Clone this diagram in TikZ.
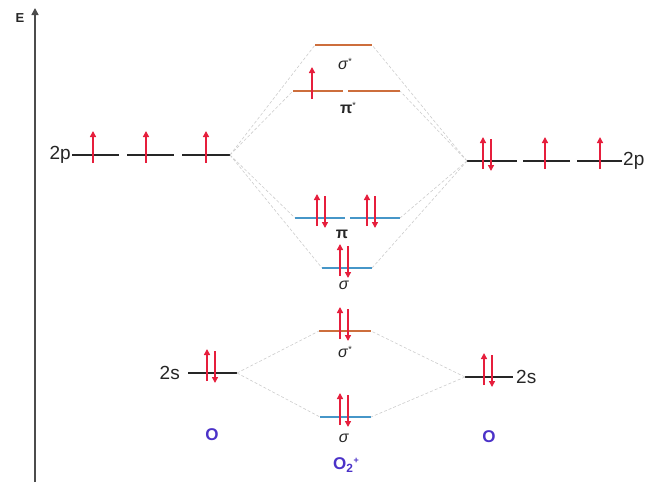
\documentclass[tikz,border=0pt]{standalone}
\usepackage{fontspec}
\setmainfont{Liberation Sans}
\usetikzlibrary{arrows.meta}
\definecolor{orb}{RGB}{205,110,60}
\definecolor{blu}{RGB}{70,150,200}
\definecolor{spinred}{RGB}{230,30,60}
\definecolor{lbl}{RGB}{75,50,200}
\tikzset{
  lvl/.style={line width=2.2pt},
  ao/.style={lvl,black!85},
  anti/.style={lvl,orb},
  bond/.style={lvl,blu},
  corr/.style={gray!40,densely dashed,line width=0.6pt},
  spin/.style={spinred,line width=1.4pt,-{Triangle[length=6pt,width=6pt]}},
  txt/.style={font=\fontsize{19}{19}\selectfont,text=black!85},
  mo/.style={font=\fontsize{16}{16}\selectfont,text=black!85},
  atom/.style={font=\bfseries\fontsize{17}{17}\selectfont,text=lbl}
}
\newcommand\eup[2]{\draw[spin] (#1,#2+8) -- (#1,#2-24);}
\newcommand\edn[2]{\draw[spin] (#1,#2-22) -- (#1,#2+10);}
\newcommand\epair[2]{\eup{#1-4}{#2}\edn{#1+4}{#2}}
\begin{document}
\begin{tikzpicture}[x=1pt,y=-1pt]
\useasboundingbox (0,0) rectangle (647,482);
% axis
\coordinate (ax0) at (35,482);
\coordinate (ax1) at (35,8);
\draw[black!70,line width=1.6pt,-{Triangle[length=7pt,width=7pt]}] (ax0) -- (ax1);
\node[txt,font=\bfseries\fontsize{13}{13}\selectfont] (E) at (20,18) {E};
% left atom 2p
\coordinate (lpa1) at (72,155); \coordinate (lpb1) at (119,155);
\coordinate (lpa2) at (127,155); \coordinate (lpb2) at (174,155);
\coordinate (lpa3) at (182,155); \coordinate (lpb3) at (230,155);
\draw[ao] (lpa1) -- (lpb1); \draw[ao] (lpa2) -- (lpb2); \draw[ao] (lpa3) -- (lpb3);
\node[txt,anchor=east,inner sep=1pt] (l2p) at (lpa1) {2p};
\eup{93}{155}\eup{146}{155}\eup{206}{155}
% right atom 2p
\coordinate (rpa1) at (467,161); \coordinate (rpb1) at (517,161);
\coordinate (rpa2) at (523,161); \coordinate (rpb2) at (570,161);
\coordinate (rpa3) at (577,161); \coordinate (rpb3) at (622,161);
\draw[ao] (rpa1) -- (rpb1); \draw[ao] (rpa2) -- (rpb2); \draw[ao] (rpa3) -- (rpb3);
\node[txt,anchor=west,inner sep=1pt] (r2p) at (rpb3) {2p};
\epair{487}{161}\eup{545}{161}\eup{600}{161}
% MOs from 2p
\coordinate (ssa) at (315,45); \coordinate (ssb) at (372,45);
\draw[anti] (ssa) -- (ssb);
\node[mo] (ssl) at (345,64) {\textit{σ}\raisebox{0.6ex}{\small*}};
\coordinate (ppa1) at (293,91); \coordinate (ppb1) at (343,91);
\coordinate (ppa2) at (348,91); \coordinate (ppb2) at (400,91);
\draw[anti] (ppa1) -- (ppb1); \draw[anti] (ppa2) -- (ppb2);
\eup{312}{91}
\node[mo] (ppl) at (348,108) {\textbf{π}\raisebox{0.6ex}{\small*}};
\coordinate (pa1) at (295,218); \coordinate (pb1) at (345,218);
\coordinate (pa2) at (350,218); \coordinate (pb2) at (400,218);
\draw[bond] (pa1) -- (pb1); \draw[bond] (pa2) -- (pb2);
\epair{321}{218}\epair{371}{218}
\node[mo] (pl) at (342,234) {\textbf{π}};
\coordinate (sa) at (322,268); \coordinate (sb) at (372,268);
\draw[bond] (sa) -- (sb);
\epair{344}{268}
\node[mo] (sl) at (344,285) {\textit{σ}};
% correlation lines 2p
\foreach \t in {ssa,ppa1,pa1,sa} \draw[corr] (lpb3) -- (\t);
\foreach \t in {ssb,ppb2,pb2,sb} \draw[corr] (rpa1) -- (\t);
% 2s
\coordinate (lsa) at (188,373); \coordinate (lsb) at (237,373);
\draw[ao] (lsa) -- (lsb);
\node[txt,anchor=east,inner sep=8pt] (l2s) at (lsa) {2s};
\epair{211}{373}
\coordinate (rsa) at (465,377); \coordinate (rsb) at (513,377);
\draw[ao] (rsa) -- (rsb);
\node[txt,anchor=west,inner sep=3pt] (r2s) at (rsb) {2s};
\epair{488}{377}
\coordinate (s2a) at (319,331); \coordinate (s2b) at (371,331);
\draw[anti] (s2a) -- (s2b);
\epair{344}{331}
\node[mo] (s2l) at (345,352) {\textit{σ}\raisebox{0.6ex}{\small*}};
\coordinate (s1a) at (320,417); \coordinate (s1b) at (371,417);
\draw[bond] (s1a) -- (s1b);
\epair{344}{417}
\node[mo] (s1l) at (344,438) {\textit{σ}};
\foreach \t in {s2a,s1a} \draw[corr] (lsb) -- (\t);
\foreach \t in {s2b,s1b} \draw[corr] (rsa) -- (\t);
% atom labels
\node[atom] (OL) at (212,435) {O};
\node[atom] (OR) at (489,437) {O};
\node[atom] (O2) at (346,465) {O\textsubscript{2}\raisebox{0.7ex}{\small +}};
\end{tikzpicture}
\end{document}
